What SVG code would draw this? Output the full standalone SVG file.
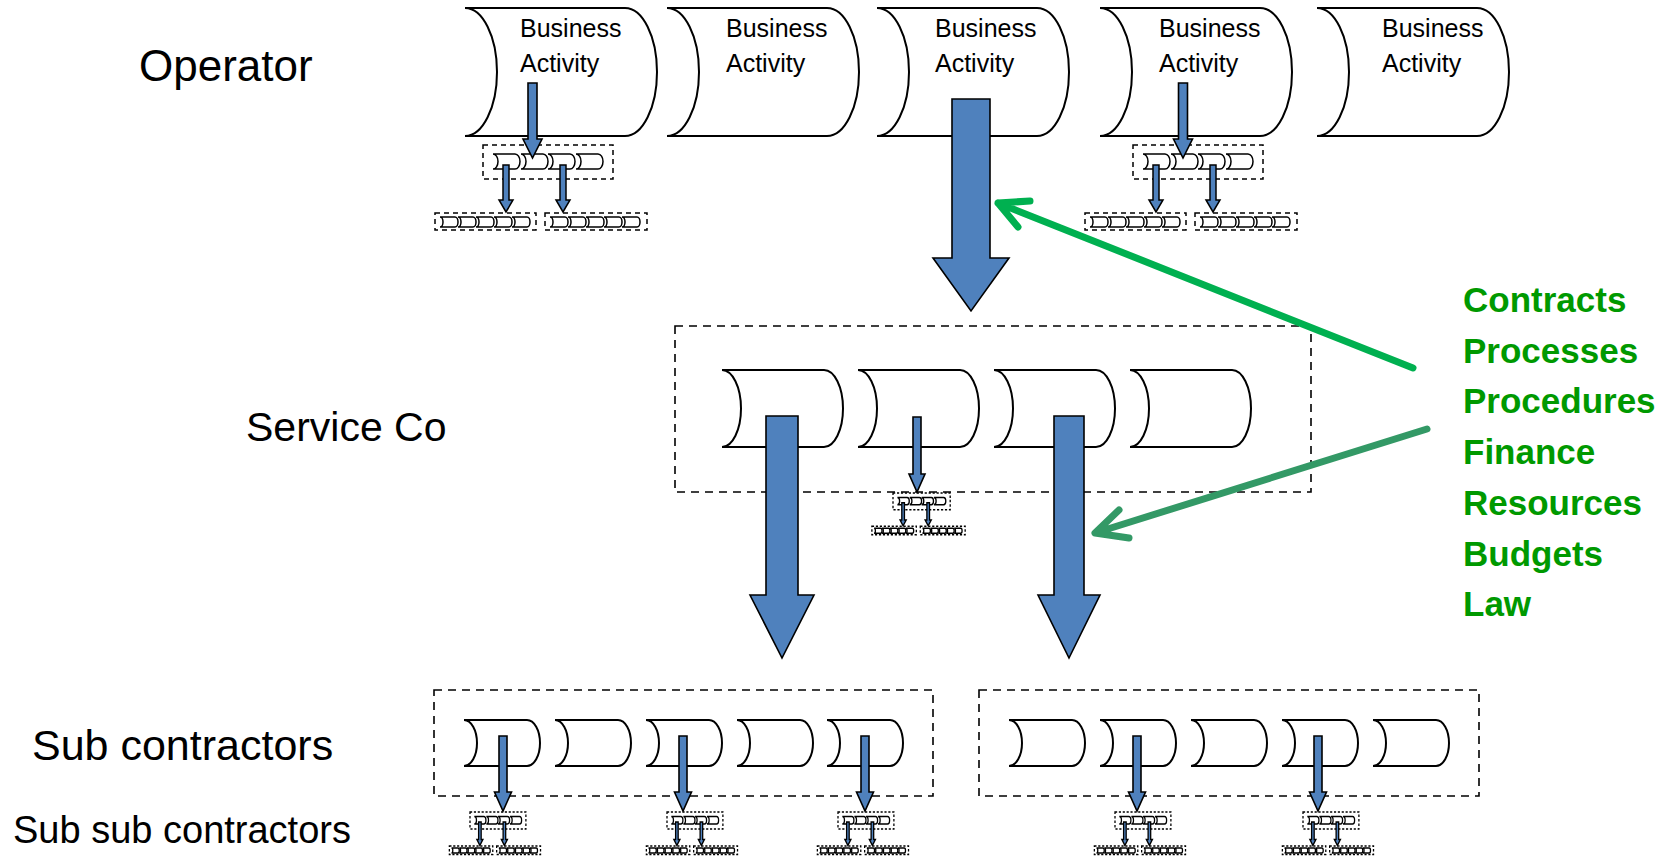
<svg xmlns="http://www.w3.org/2000/svg" xmlns:xlink="http://www.w3.org/1999/xlink" width="1673" height="860" viewBox="0 0 1673 860">
<style>
.cyl{fill:#fff;stroke:#000;stroke-width:2}
.box{fill:none;stroke:#000;stroke-width:1.6;stroke-dasharray:8,6}
.blue{fill:#4F81BD;stroke:#000;stroke-width:1.6;stroke-linejoin:miter}
.lbl{font-family:"Liberation Sans",Arial,sans-serif;fill:#000}
.ba{font-family:"Liberation Sans",Arial,sans-serif;font-size:25px;fill:#000}
.grn{font-family:"Liberation Sans",Arial,sans-serif;font-size:35px;font-weight:bold;fill:#009900}
</style>
<defs>
<path id="ms" d="M0,0 H22 A5,7.5 0 0 1 22,15 H0 A5,7.5 0 0 0 0,0 Z" fill="#fff" stroke="#000"/>
<path id="ls" d="M0,0 H15 A3,5 0 0 1 15,10 H0 A3,5 0 0 0 0,0 Z" fill="#fff" stroke="#000"/>
<g id="unit">
<rect x="0" y="0" width="130" height="34" fill="none" stroke="#000" stroke-dasharray="5,4"/>
<use xlink:href="#ms" x="10" y="9"/><use xlink:href="#ms" x="38" y="9"/><use xlink:href="#ms" x="65" y="9"/><use xlink:href="#ms" x="93" y="9"/>
<rect x="-48" y="68" width="101" height="17" fill="none" stroke="#000" stroke-dasharray="5,4"/>
<rect x="62" y="68" width="102" height="17" fill="none" stroke="#000" stroke-dasharray="5,4"/>
<use xlink:href="#ls" x="-43" y="72"/><use xlink:href="#ls" x="-25" y="72"/><use xlink:href="#ls" x="-7" y="72"/><use xlink:href="#ls" x="11" y="72"/><use xlink:href="#ls" x="29" y="72"/>
<use xlink:href="#ls" x="67" y="72"/><use xlink:href="#ls" x="85" y="72"/><use xlink:href="#ls" x="103" y="72"/><use xlink:href="#ls" x="121" y="72"/><use xlink:href="#ls" x="139" y="72"/>
<polygon points="20,20 26,20 26,55 30,55 23,67 16,55 20,55" fill="#4F81BD" stroke="#000"/>
<polygon points="77,20 83,20 83,55 87,55 80,67 73,55 77,55" fill="#4F81BD" stroke="#000"/>
</g>
</defs>

<g id="labels">
<text class="lbl" x="139" y="81" font-size="44">Operator</text>
<text class="lbl" x="246" y="441" font-size="41">Service Co</text>
<text class="lbl" x="32" y="760" font-size="43">Sub contractors</text>
<text class="lbl" x="13" y="843" font-size="38">Sub sub contractors</text>
</g>

<g id="operator">
<path class="cyl" d="M465,8 H625 A32,64 0 0 1 625,136 H465 A32,64 0 0 0 465,8 Z"/>
<path class="cyl" d="M667,8 H827 A32,64 0 0 1 827,136 H667 A32,64 0 0 0 667,8 Z"/>
<path class="cyl" d="M877,8 H1037 A32,64 0 0 1 1037,136 H877 A32,64 0 0 0 877,8 Z"/>
<path class="cyl" d="M1100,8 H1260 A32,64 0 0 1 1260,136 H1100 A32,64 0 0 0 1100,8 Z"/>
<path class="cyl" d="M1317,8 H1477 A32,64 0 0 1 1477,136 H1317 A32,64 0 0 0 1317,8 Z"/>
<text class="ba" x="520" y="37">Business</text><text class="ba" x="520" y="72">Activity</text>
<text class="ba" x="726" y="37">Business</text><text class="ba" x="726" y="72">Activity</text>
<text class="ba" x="935" y="37">Business</text><text class="ba" x="935" y="72">Activity</text>
<text class="ba" x="1159" y="37">Business</text><text class="ba" x="1159" y="72">Activity</text>
<text class="ba" x="1382" y="37">Business</text><text class="ba" x="1382" y="72">Activity</text>
</g>

<g id="operator-units">
<use xlink:href="#unit" transform="translate(483,145)" stroke-width="1.5"/>
<use xlink:href="#unit" transform="translate(1133,145)" stroke-width="1.5"/>
</g>

<g id="service">
<rect class="box" x="675" y="326" width="636" height="166"/>
<path class="cyl" d="M722,370 H824 A19,38.5 0 0 1 824,447 H722 A19,38.5 0 0 0 722,370 Z"/>
<path class="cyl" d="M858,370 H960 A19,38.5 0 0 1 960,447 H858 A19,38.5 0 0 0 858,370 Z"/>
<path class="cyl" d="M994,370 H1096 A19,38.5 0 0 1 1096,447 H994 A19,38.5 0 0 0 994,370 Z"/>
<path class="cyl" d="M1130,370 H1232 A19,38.5 0 0 1 1232,447 H1130 A19,38.5 0 0 0 1130,370 Z"/>
<use xlink:href="#unit" transform="translate(893,493) scale(0.44,0.49)" stroke-width="3"/>
</g>

<g id="subcontractors">
<rect class="box" x="434" y="690" width="499" height="106"/>
<rect class="box" x="979" y="690" width="500" height="106"/>
<path class="cyl" d="M464,720 H527 A13,23 0 0 1 527,766 H464 A13,23 0 0 0 464,720 Z"/>
<path class="cyl" d="M555,720 H618 A13,23 0 0 1 618,766 H555 A13,23 0 0 0 555,720 Z"/>
<path class="cyl" d="M646,720 H709 A13,23 0 0 1 709,766 H646 A13,23 0 0 0 646,720 Z"/>
<path class="cyl" d="M737,720 H800 A13,23 0 0 1 800,766 H737 A13,23 0 0 0 737,720 Z"/>
<path class="cyl" d="M827,720 H890 A13,23 0 0 1 890,766 H827 A13,23 0 0 0 827,720 Z"/>
<path class="cyl" d="M1009,720 H1072 A13,23 0 0 1 1072,766 H1009 A13,23 0 0 0 1009,720 Z"/>
<path class="cyl" d="M1100,720 H1163 A13,23 0 0 1 1163,766 H1100 A13,23 0 0 0 1100,720 Z"/>
<path class="cyl" d="M1191,720 H1254 A13,23 0 0 1 1254,766 H1191 A13,23 0 0 0 1191,720 Z"/>
<path class="cyl" d="M1282,720 H1345 A13,23 0 0 1 1345,766 H1282 A13,23 0 0 0 1282,720 Z"/>
<path class="cyl" d="M1373,720 H1436 A13,23 0 0 1 1436,766 H1373 A13,23 0 0 0 1373,720 Z"/>
</g>

<g id="subsub">
<use xlink:href="#unit" transform="translate(470,812) scale(0.43,0.5)" stroke-width="3"/>
<use xlink:href="#unit" transform="translate(667,812) scale(0.43,0.5)" stroke-width="3"/>
<use xlink:href="#unit" transform="translate(838,812) scale(0.43,0.5)" stroke-width="3"/>
<use xlink:href="#unit" transform="translate(1115,812) scale(0.43,0.5)" stroke-width="3"/>
<use xlink:href="#unit" transform="translate(1303,812) scale(0.43,0.5)" stroke-width="3"/>
</g>

<g id="connectors">
<polygon class="blue" points="528,83 537,83 537,139 542,139 532.5,158 523,139 528,139"/>
<polygon class="blue" points="1178.5,83 1187.5,83 1187.5,139 1192.5,139 1183,158 1173.5,139 1178.5,139"/>
<polygon class="blue" points="952,99 990,99 990,258 1009,258 971,311 933,258 952,258"/>
<polygon class="blue" points="766,416 798,416 798,595 814,595 782,658 750,595 766,595"/>
<polygon class="blue" points="1054,416 1084,416 1084,595 1100,595 1069,658 1038,595 1054,595"/>
<polygon class="blue" points="913,417 921,417 921,474 925,474 917,492 909,474 913,474"/>
<polygon class="blue" points="499,736 507,736 507,792 511.5,792 503,811 494.5,792 499,792"/>
<polygon class="blue" points="679,736 687,736 687,792 691.5,792 683,811 674.5,792 679,792"/>
<polygon class="blue" points="861,736 869,736 869,792 873.5,792 865,811 856.5,792 861,792"/>
<polygon class="blue" points="1133,736 1141,736 1141,792 1145.5,792 1137,811 1128.5,792 1133,792"/>
<polygon class="blue" points="1314,736 1322,736 1322,792 1326.5,792 1318,811 1309.5,792 1314,792"/>
<g fill="none" stroke-width="7" stroke-linecap="round" stroke-linejoin="round">
<path d="M1413,368 L998,203 M1030,201 L998,203 L1018,227" stroke="#00B050"/>
<path d="M1427,429 L1095,533 M1119,510 L1095,533 L1129,538" stroke="#339966"/>
</g>
</g>

<g id="factors">
<text class="grn" x="1463" y="312">Contracts</text>
<text class="grn" x="1463" y="363">Processes</text>
<text class="grn" x="1463" y="413">Procedures</text>
<text class="grn" x="1463" y="464">Finance</text>
<text class="grn" x="1463" y="515">Resources</text>
<text class="grn" x="1463" y="566">Budgets</text>
<text class="grn" x="1463" y="616">Law</text>
</g>
</svg>
